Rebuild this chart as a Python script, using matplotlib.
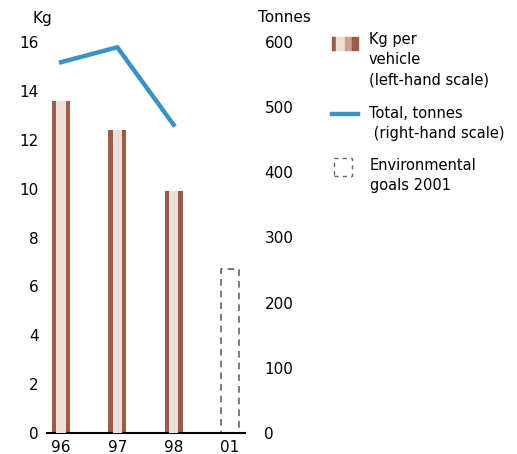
import matplotlib
matplotlib.use('Agg')
from matplotlib import pyplot as plt
from matplotlib.patches import Rectangle
from matplotlib.lines import Line2D

years = ['96', '97', '98', '01']
kg_per_vehicle = [13.6, 12.4, 9.9]
goal_2001 = 6.7
total_tonnes = [569, 592, 473]

dark = '#9b5b47'
light = '#ecdfd6'
mid = '#c9a08f'
blue = '#3a93c4'

plt.rcParams['font.family'] = 'DejaVu Sans'
plt.rcParams['font.size'] = 11

fig = plt.figure(figsize=(5.17, 4.54), dpi=100)
ax = fig.add_axes([47/517, 1 - 433/454, 198/517, 391/454])

x = list(range(len(years)))
ax.bar(x[:3], kg_per_vehicle, width=0.32, color=dark, zorder=2)
ax.bar(x[:3], kg_per_vehicle, width=0.17, color=light, zorder=3)
ax.bar(x[3], goal_2001, width=0.32, fill=False, edgecolor='#666666',
       linestyle=(0, (4, 3)), linewidth=1.2, zorder=2)

ax.set_xlim(-0.25, 3.27)
ax.set_ylim(0, 16)
ax.set_yticks(range(0, 17, 2))
ax.set_xticks(x)
ax.set_xticklabels(years)
for s in ['top', 'right', 'left']:
    ax.spines[s].set_visible(False)
ax.spines['bottom'].set_linewidth(1.5)
ax.tick_params(axis='x', length=0, pad=5)
ax.tick_params(axis='y', length=0, pad=6)

ax2 = ax.twinx()
ax2.plot(x[:3], total_tonnes, color=blue, linewidth=3.2, zorder=4)
ax2.set_ylim(0, 600)
ax2.set_yticks(range(0, 601, 100))
for s in ['top', 'right', 'left', 'bottom']:
    ax2.spines[s].set_visible(False)
ax2.tick_params(axis='y', length=0, pad=14)

fig.text(32/517, 1 - 18/454, 'Kg', ha='left', va='center')
fig.text(258/517, 1 - 18/454, 'Tonnes', ha='left', va='center')

# legend
W, H = 517, 454
def fx(px):
    return px / W
def fy(py):
    return 1 - py / H

stripes = [(332, 336, dark), (336, 345, light), (345, 352, mid), (352, 358, dark)]
for x0, x1, c in stripes:
    fig.patches.append(Rectangle((fx(x0), fy(50)), fx(x1) - fx(x0), fy(37) - fy(50),
                                 transform=fig.transFigure, color=c))
fig.text(fx(369), fy(32), 'Kg per\nvehicle\n(left-hand scale)', ha='left', va='top',
         linespacing=1.45, fontsize=10.5)

fig.lines.append(Line2D([fx(332), fx(358)], [fy(114), fy(114)], transform=fig.transFigure,
                        color=blue, linewidth=3.2))
fig.text(fx(369), fy(106), 'Total, tonnes\n (right-hand scale)', ha='left', va='top',
         linespacing=1.45, fontsize=10.5)

fig.patches.append(Rectangle((fx(334), fy(176)), fx(352) - fx(334), fy(158) - fy(176),
                             transform=fig.transFigure, fill=False, edgecolor='#666666',
                             linestyle=(0, (3, 3)), linewidth=1))
fig.text(fx(370), fy(158), 'Environmental\ngoals 2001', ha='left', va='top',
         linespacing=1.45, fontsize=10.5)

fig.savefig('out.png', dpi=100)
